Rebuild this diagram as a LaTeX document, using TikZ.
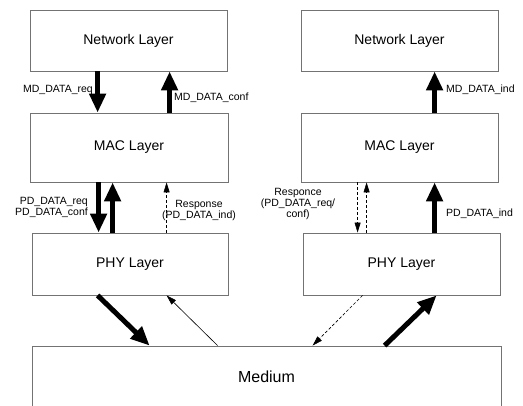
\documentclass[tikz,border=0pt]{standalone}
\usepackage{fontspec}
\setmainfont{Liberation Sans}
\usetikzlibrary{arrows.meta}
\tikzset{
  layer/.style={draw=black!55, line width=0.8pt, rectangle, inner sep=0pt, font=\fontsize{14}{16}\selectfont},
  lbl/.style={inner sep=0pt, font=\fontsize{10.5}{11}\selectfont},
  bigarrow/.style={line width=5pt, -{Triangle[width=16pt,length=19pt]}},
  smallarrow/.style={line width=0.6pt, -{Triangle[width=6pt,length=10pt]}},
}
\begin{document}
\begin{tikzpicture}[x=1pt, y=-1pt]
    \useasboundingbox (0,0) rectangle (523,406);
    \node[layer, minimum width=197, minimum height=61] (lnet) at (128.5,40.5) {Network Layer};
    \node[layer, minimum width=197, minimum height=61] (rnet) at (399.5,40.5) {Network Layer};
    \node[layer, minimum width=198, minimum height=69] (lmac) at (129,147.5) {MAC Layer};
    \node[layer, minimum width=197, minimum height=69] (rmac) at (399.5,147.5) {MAC Layer};
    \node[layer, minimum width=196, minimum height=62] (lphy) at (130,264) {PHY Layer};
    \node[layer, minimum width=197, minimum height=62] (rphy) at (401.5,264) {PHY Layer};
    \node[layer, minimum width=469, minimum height=62, font=\fontsize{16}{18}\selectfont] (med) at (266.5,377) {Medium};
    % labels
    \node[lbl, anchor=east] (mdreq) at (93,90) {MD\_DATA\_req};
    \node[lbl, anchor=west] (mdconf) at (174,98) {MD\_DATA\_conf};
    \node[lbl, anchor=west] (mdind) at (446,90) {MD\_DATA\_ind};
    \node[lbl, anchor=east, align=right] (pdreq) at (88,207) {PD\_DATA\_req\\PD\_DATA\_conf};
    \node[lbl, align=center] (lresp) at (199,210) {Response\\(PD\_DATA\_ind)};
    \node[lbl, align=center] (rresp) at (298,204) {Responce\\(PD\_DATA\_req/\\conf)};
    \node[lbl, anchor=west] (pdind) at (446,214) {PD\_DATA\_ind};
    % thick arrows
    \foreach \from/\fs/\to/\ts in {lnet/68/lmac/68, lmac/69/lphy/67}
        \draw[bigarrow] ([xshift=\fs]\from.south west) -- ([xshift=\ts]\to.north west);
    \foreach \from/\fs/\to/\ts in {lmac/140/lnet/140, rmac/134/rnet/134, lphy/81/lmac/83, rphy/132/rmac/134}
        \draw[bigarrow] ([xshift=\fs]\from.north west) -- ([xshift=\ts]\to.south west);
    \draw[bigarrow] ([xshift=66]lphy.south west) -- ([xshift=118]med.north west);
    \draw[bigarrow] ([xshift=353]med.north west) -- ([xshift=134]rphy.south west);
    % thin arrows
    \draw[smallarrow, densely dashed] ([xshift=135]lphy.north west) -- ([xshift=137]lmac.south west);
    \draw[smallarrow, densely dashed] ([xshift=57]rmac.south west) -- ([xshift=55]rphy.north west);
    \draw[smallarrow, densely dashed] ([xshift=64]rphy.north west) -- ([xshift=66]rmac.south west);
    \draw[smallarrow] ([xshift=186]med.north west) -- ([xshift=135]lphy.south west);
    \draw[smallarrow, densely dashed] ([xshift=60]rphy.south west) -- ([xshift=281]med.north west);
\end{tikzpicture}
\end{document}
